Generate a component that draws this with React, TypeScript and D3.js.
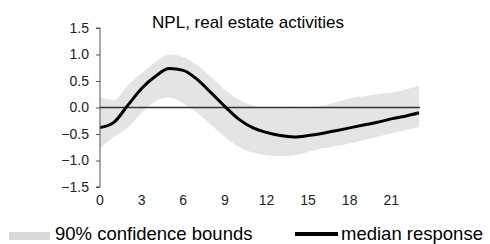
import React, { useEffect, useRef } from 'react';
import * as d3 from 'd3';

// horizon (months) and estimated responses
const steps = d3.range(0, 24);
const median = [-0.38, -0.28, 0.04, 0.36, 0.59, 0.735, 0.7, 0.53, 0.28, 0.02, -0.22, -0.38,
  -0.47, -0.53, -0.555, -0.53, -0.49, -0.44, -0.385, -0.33, -0.28, -0.215, -0.165, -0.1];
const upper = [0.19, 0.14, 0.42, 0.65, 0.86, 1.0, 0.955, 0.8, 0.58, 0.34, 0.15, 0.04,
  0.0, -0.01, -0.02, 0.0, 0.03, 0.1, 0.17, 0.21, 0.25, 0.28, 0.34, 0.41];
const lower = [-0.77, -0.55, -0.38, -0.1, 0.12, 0.19, 0.075, -0.1, -0.33, -0.55, -0.74, -0.85,
  -0.9, -0.92, -0.9, -0.84, -0.77, -0.73, -0.68, -0.62, -0.55, -0.49, -0.43, -0.37];
const xTicks = [0, 3, 6, 9, 12, 15, 18, 21];
const yTicks = [-1.5, -1.0, -0.5, 0.0, 0.5, 1.0, 1.5];
const title = 'NPL, real estate activities';
const legendLabels = ['90% confidence bounds', 'median response'];

const App = () => {
  const ref = useRef(null);

  useEffect(() => {
    const svg = d3.select(ref.current);
    svg.selectAll('*').remove();
    const font = '"Liberation Sans", Arial, sans-serif';

    const x = d3.scaleLinear().domain([0, 23]).range([100, 419]);
    const y = d3.scaleLinear().domain([-1.5, 1.5]).range([187, 28]);

    const data = steps.map((s, i) => ({ s, m: median[i], hi: upper[i], lo: lower[i] }));

    // confidence band
    svg.append('path')
      .datum(data)
      .attr('fill', '#e4e4e4')
      .attr('d', d3.area().x((d) => x(d.s)).y0((d) => y(d.lo)).y1((d) => y(d.hi)).curve(d3.curveMonotoneX));

    // zero line
    svg.append('line')
      .attr('x1', x(0)).attr('x2', x(23) + 1)
      .attr('y1', y(0)).attr('y2', y(0))
      .attr('stroke', '#333').attr('stroke-width', 1.5);

    // median
    svg.append('path')
      .datum(data)
      .attr('fill', 'none')
      .attr('stroke', '#000')
      .attr('stroke-width', 3)
      .attr('stroke-linejoin', 'round')
      .attr('d', d3.line().x((d) => x(d.s)).y((d) => y(d.m)).curve(d3.curveMonotoneX));

    // y axis
    const yAxis = svg.append('g')
      .attr('transform', `translate(${x(0)},0)`)
      .call(d3.axisLeft(y).tickValues(yTicks).tickSize(4).tickPadding(7).tickFormat(d3.format('.1f')));
    yAxis.select('.domain').attr('stroke', '#555').attr('d', `M-4,${y(1.5)}H0V${y(-1.5)}H-4`);
    yAxis.selectAll('line').attr('stroke', '#555');
    yAxis.selectAll('text').attr('font-family', font).attr('font-size', 14).attr('fill', '#222');

    // x tick labels
    svg.append('g')
      .selectAll('text')
      .data(xTicks)
      .join('text')
      .attr('x', (d) => x(d))
      .attr('y', 205)
      .attr('text-anchor', 'middle')
      .attr('font-family', font)
      .attr('font-size', 14)
      .attr('fill', '#222')
      .text((d) => d);

    // title
    svg.append('text')
      .attr('x', 248)
      .attr('y', 28)
      .attr('text-anchor', 'middle')
      .attr('font-family', font)
      .attr('font-size', 17)
      .attr('fill', '#000')
      .text(title);

    // legend
    svg.append('rect')
      .attr('x', 9).attr('y', 232).attr('width', 41).attr('height', 8)
      .attr('fill', '#d9d9d9');
    svg.append('text')
      .attr('x', 55).attr('y', 240)
      .attr('font-family', font).attr('font-size', 18.5).attr('fill', '#000')
      .text(legendLabels[0]);
    svg.append('line')
      .attr('x1', 295).attr('x2', 338).attr('y1', 234).attr('y2', 234)
      .attr('stroke', '#000').attr('stroke-width', 4);
    svg.append('text')
      .attr('x', 341).attr('y', 240)
      .attr('font-family', font).attr('font-size', 18.5).attr('fill', '#000')
      .text(legendLabels[1]);
  }, []);

  return (
    <svg ref={ref} width={490} height={244}
      style={{ position: 'absolute', left: 0, top: 0, background: '#fff' }} />
  );
};

export default App;
